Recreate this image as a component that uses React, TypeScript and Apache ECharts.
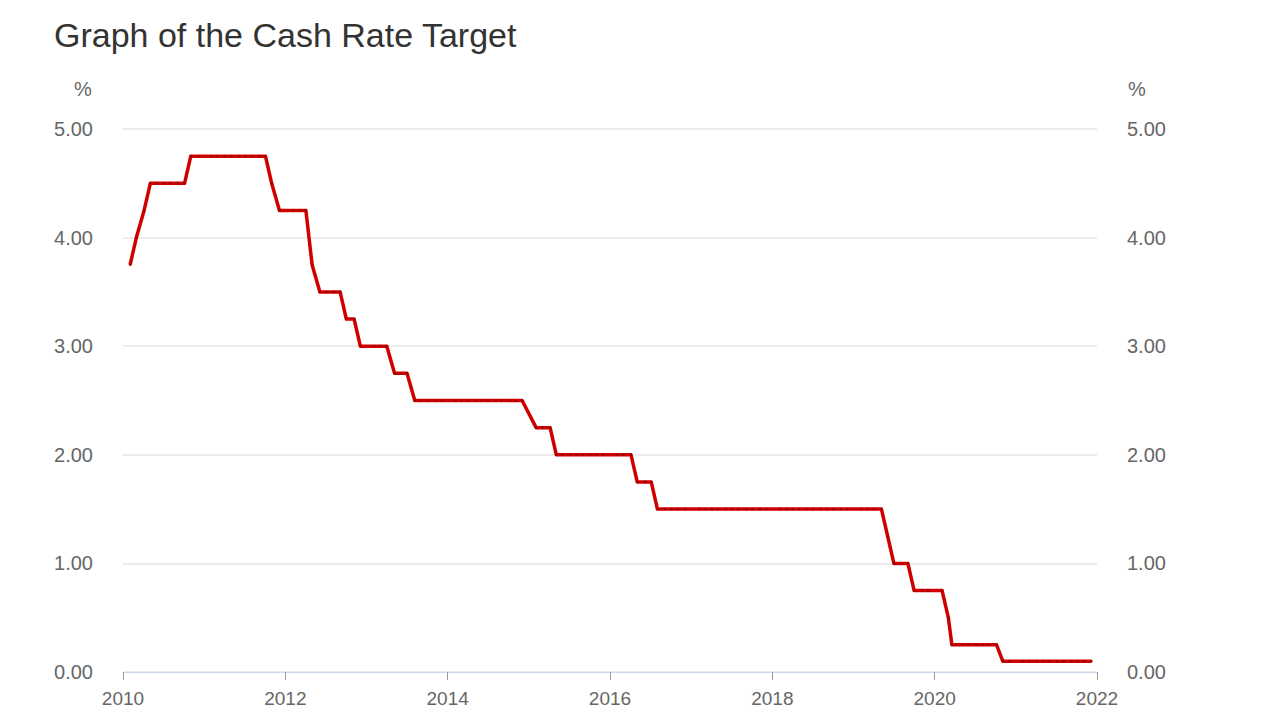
import React, { useEffect, useRef } from "react";
import * as echarts from "echarts";

// RBA Board meeting dates (cash rate target after each meeting)
const meetingDates: string[] = [
  "2010-02-02", "2010-03-02", "2010-04-06", "2010-05-04", "2010-06-01", "2010-07-06", "2010-08-03", "2010-09-07", "2010-10-05", "2010-11-02", "2010-12-07",
  "2011-02-01", "2011-03-01", "2011-04-05", "2011-05-03", "2011-06-07", "2011-07-05", "2011-08-02", "2011-09-06", "2011-10-04", "2011-11-01", "2011-12-06",
  "2012-02-07", "2012-03-06", "2012-04-03", "2012-05-01", "2012-06-05", "2012-07-03", "2012-08-07", "2012-09-04", "2012-10-02", "2012-11-06", "2012-12-04",
  "2013-02-05", "2013-03-05", "2013-04-02", "2013-05-07", "2013-06-04", "2013-07-02", "2013-08-06", "2013-09-03", "2013-10-01", "2013-11-05", "2013-12-03",
  "2014-02-04", "2014-03-04", "2014-04-01", "2014-05-06", "2014-06-03", "2014-07-01", "2014-08-05", "2014-09-02", "2014-10-07", "2014-11-04", "2014-12-02",
  "2015-02-03", "2015-03-03", "2015-04-07", "2015-05-05", "2015-06-02", "2015-07-07", "2015-08-04", "2015-09-01", "2015-10-06", "2015-11-03", "2015-12-01",
  "2016-02-02", "2016-03-01", "2016-04-05", "2016-05-03", "2016-06-07", "2016-07-05", "2016-08-02", "2016-09-06", "2016-10-04", "2016-11-01", "2016-12-06",
  "2017-02-07", "2017-03-07", "2017-04-04", "2017-05-02", "2017-06-06", "2017-07-04", "2017-08-01", "2017-09-05", "2017-10-03", "2017-11-07", "2017-12-05",
  "2018-02-06", "2018-03-06", "2018-04-03", "2018-05-01", "2018-06-05", "2018-07-03", "2018-08-07", "2018-09-04", "2018-10-02", "2018-11-06", "2018-12-04",
  "2019-02-05", "2019-03-05", "2019-04-02", "2019-05-07", "2019-06-04", "2019-07-02", "2019-08-06", "2019-09-03", "2019-10-01", "2019-11-05", "2019-12-03",
  "2020-02-04", "2020-03-03", "2020-03-19", "2020-04-07", "2020-05-05", "2020-06-02", "2020-07-07", "2020-08-04", "2020-09-01", "2020-10-06", "2020-11-03", "2020-12-01",
  "2021-02-02", "2021-03-02", "2021-04-06", "2021-05-04", "2021-06-01", "2021-07-06", "2021-08-03", "2021-09-07", "2021-10-05", "2021-11-02", "2021-12-07",
];

const cashRate: number[] = [
  3.75, 4.0, 4.25, 4.5, 4.5, 4.5, 4.5, 4.5, 4.5, 4.75, 4.75,
  4.75, 4.75, 4.75, 4.75, 4.75, 4.75, 4.75, 4.75, 4.75, 4.5, 4.25,
  4.25, 4.25, 4.25, 3.75, 3.5, 3.5, 3.5, 3.5, 3.25, 3.25, 3.0,
  3.0, 3.0, 3.0, 2.75, 2.75, 2.75, 2.5, 2.5, 2.5, 2.5, 2.5,
  2.5, 2.5, 2.5, 2.5, 2.5, 2.5, 2.5, 2.5, 2.5, 2.5, 2.5,
  2.25, 2.25, 2.25, 2.0, 2.0, 2.0, 2.0, 2.0, 2.0, 2.0, 2.0,
  2.0, 2.0, 2.0, 1.75, 1.75, 1.75, 1.5, 1.5, 1.5, 1.5, 1.5,
  1.5, 1.5, 1.5, 1.5, 1.5, 1.5, 1.5, 1.5, 1.5, 1.5, 1.5,
  1.5, 1.5, 1.5, 1.5, 1.5, 1.5, 1.5, 1.5, 1.5, 1.5, 1.5,
  1.5, 1.5, 1.5, 1.5, 1.25, 1.0, 1.0, 1.0, 0.75, 0.75, 0.75,
  0.75, 0.5, 0.25, 0.25, 0.25, 0.25, 0.25, 0.25, 0.25, 0.25, 0.1, 0.1,
  0.1, 0.1, 0.1, 0.1, 0.1, 0.1, 0.1, 0.1, 0.1, 0.1, 0.1,
];

const titleText = "Graph of the Cash Rate Target";
const unitLabel = "%";
const yearStart = 2010;
const yearEnd = 2022;
const yearStep = 2;

const FONT = "'Liberation Sans', Arial, Helvetica, sans-serif";

export default function App() {
  const ref = useRef<HTMLDivElement>(null);

  useEffect(() => {
    if (!ref.current) return;
    const chart = echarts.init(ref.current, undefined, { renderer: "svg" });
    const seriesData = meetingDates.map((d, i) => [d, cashRate[i]]);
    const yLabel = {
      fontSize: 20,
      color: "#666666",
      fontFamily: FONT,
      margin: 30,
      formatter: (v: number) => v.toFixed(2),
    };
    chart.setOption({
      animation: false,
      backgroundColor: "#ffffff",
      textStyle: { fontFamily: FONT },
      title: {
        text: titleText,
        left: 49,
        top: 13,
        textStyle: { fontSize: 34, fontWeight: "normal", color: "#333333", fontFamily: FONT },
      },
      graphic: [
        {
          type: "text",
          left: 74,
          top: 79,
          style: { text: unitLabel, fontSize: 20, fill: "#666666", fontFamily: FONT },
        },
        {
          type: "text",
          left: 1128,
          top: 79,
          style: { text: unitLabel, fontSize: 20, fill: "#666666", fontFamily: FONT },
        },
      ],
      grid: { left: 123, right: 183, top: 129, bottom: 48, containLabel: false },
      xAxis: [
        {
          type: "time",
          show: false,
          min: `${yearStart}-01-01`,
          max: `${yearEnd}-01-01`,
        },
        {
          type: "value",
          position: "bottom",
          min: yearStart,
          max: yearEnd,
          interval: yearStep,
          axisLine: { show: true, lineStyle: { color: "#ccd6eb", width: 1 } },
          axisTick: { show: true, length: 8, lineStyle: { color: "#999999", width: 1 } },
          axisLabel: {
            fontSize: 19,
            color: "#666666",
            fontFamily: FONT,
            margin: 17,
            formatter: (v: number) => String(v),
          },
          splitLine: { show: false },
        },
      ],
      yAxis: [
        {
          type: "value",
          position: "left",
          min: 0,
          max: 5,
          interval: 1,
          axisLine: { show: false },
          axisTick: { show: false },
          axisLabel: yLabel,
          splitLine: { show: true, lineStyle: { color: "#e6e6e6", width: 1.5 } },
        },
        {
          type: "value",
          position: "right",
          min: 0,
          max: 5,
          interval: 1,
          axisLine: { show: false },
          axisTick: { show: false },
          axisLabel: { ...yLabel, align: "left" },
          splitLine: { show: false },
        },
      ],
      series: [
        {
          type: "line",
          xAxisIndex: 0,
          yAxisIndex: 0,
          data: seriesData,
          showSymbol: true,
          symbol: "circle",
          symbolSize: 2.5,
          itemStyle: { color: "#9a0000" },
          lineStyle: { color: "#d00000", width: 3.5, join: "round" },
          emphasis: { disabled: true },
          z: 3,
        },
      ],
    });
    return () => chart.dispose();
  }, []);

  return (
    <div
      ref={ref}
      style={{ position: "absolute", left: 0, top: 0, width: 1280, height: 720 }}
    />
  );
}
